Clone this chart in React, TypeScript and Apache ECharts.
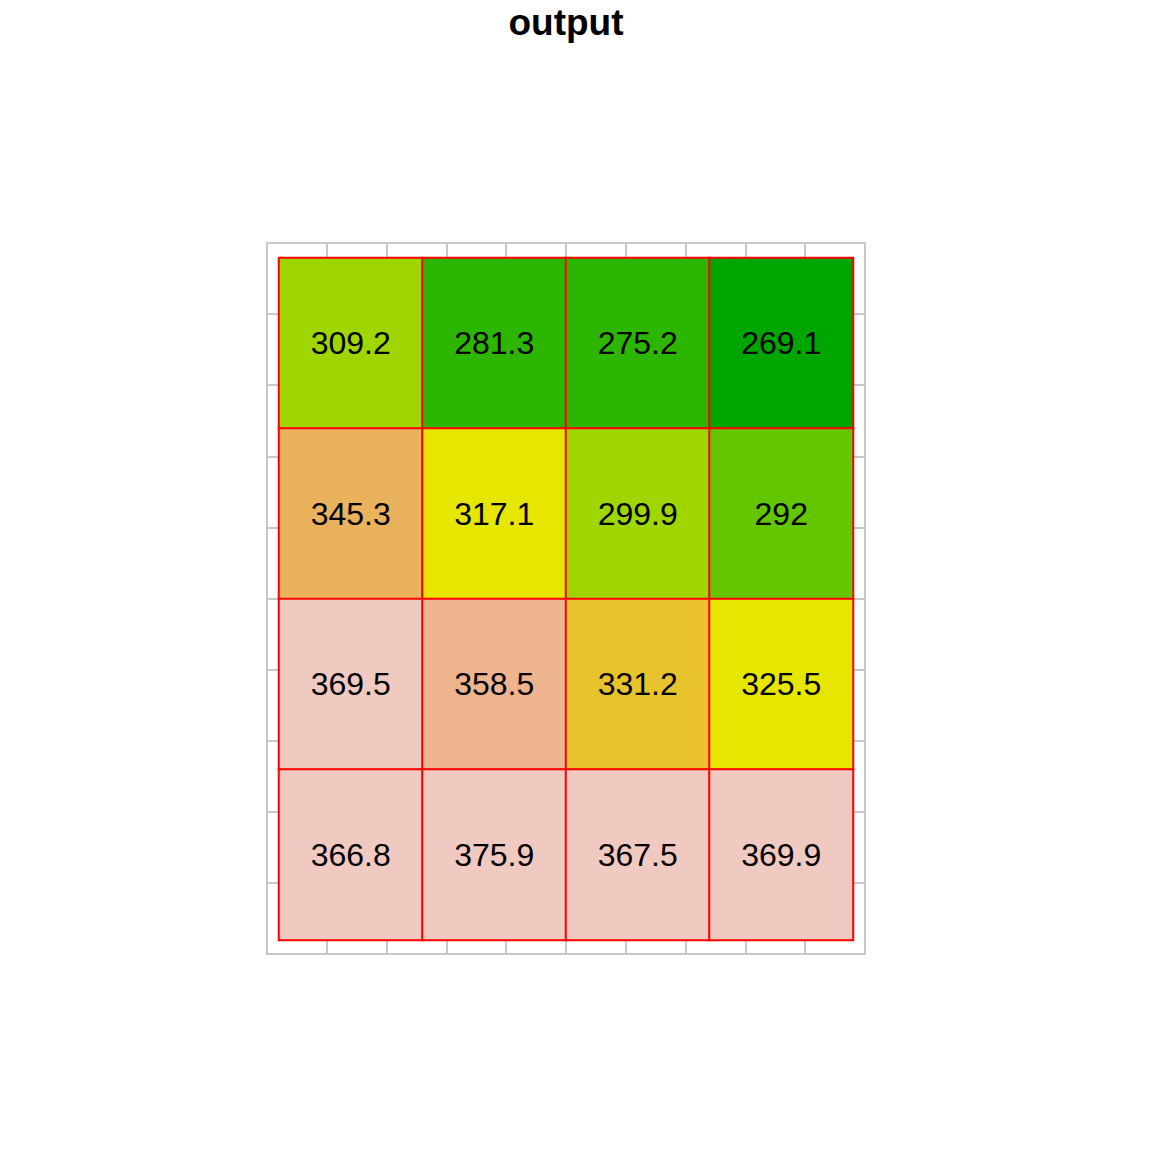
import React, { useEffect, useRef } from "react";
import * as echarts from "echarts";

const columns = ["c1", "c2", "c3", "c4"];
const rows = ["r4", "r3", "r2", "r1"]; // bottom to top
// values by row, top row first
const rowTop = [309.2, 281.3, 275.2, 269.1];
const row2 = [345.3, 317.1, 299.9, 292];
const row3 = [369.5, 358.5, 331.2, 325.5];
const rowBottom = [366.8, 375.9, 367.5, 369.9];

const breaks = [260, 272, 285, 295, 312, 328, 340, 352, 362, 380];
const colors = ["#00A600", "#2DB600", "#63C600", "#A0D600", "#E6E600", "#E8C32E", "#EBB25E", "#EDB48E", "#F0C9C0"];

const frameTicks = 10;

export default function App() {
  const ref = useRef<HTMLDivElement>(null);
  useEffect(() => {
    if (!ref.current) return;
    const chart = echarts.init(ref.current, null, { renderer: "svg" });
    const grid = [rowTop, row2, row3, rowBottom];
    const data: any[] = [];
    grid.forEach((r, ri) => {
      r.forEach((v, ci) => {
        data.push([ci, 3 - ri, v]);
      });
    });
    const pieces = colors.map((c, i) => ({ gte: breaks[i], lt: breaks[i + 1], color: c }));
    const frameColor = "#C8C8C8";
    const frameAxis = (gridIndex: number) => ({
      gridIndex,
      type: "value" as const,
      min: 0,
      max: frameTicks,
      interval: 1,
      axisLine: { show: true, onZero: false, lineStyle: { color: frameColor, width: 2 } },
      axisTick: { show: true, inside: true, length: 14, lineStyle: { color: frameColor, width: 2 } },
      axisLabel: { show: false },
      splitLine: { show: false },
    });
    chart.setOption({
      animation: false,
      grid: [
        { left: 279, top: 258, width: 574, height: 682 },
        { left: 267, top: 243, width: 598, height: 711 },
        { left: 267, top: 243, width: 598, height: 711 },
      ],
      xAxis: [
        { gridIndex: 0, type: "category", data: columns, show: false },
        { ...frameAxis(1), position: "bottom" },
        { ...frameAxis(2), position: "top" },
      ],
      yAxis: [
        { gridIndex: 0, type: "category", data: rows, show: false },
        { ...frameAxis(1), position: "left" },
        { ...frameAxis(2), position: "right" },
      ],
      visualMap: {
        show: false,
        type: "piecewise",
        seriesIndex: 0,
        dimension: 2,
        pieces,
      },
      graphic: [
        {
          type: "text",
          x: 566,
          y: 22,
          style: {
            text: "output",
            font: 'bold 37px "Liberation Sans", Arial, sans-serif',
            fill: "#000",
            align: "center",
            verticalAlign: "middle",
          },
        },
      ],
      series: [
        {
          type: "heatmap",
          xAxisIndex: 0,
          yAxisIndex: 0,
          data,
          z: 5,
          itemStyle: { borderColor: "#FF0000", borderWidth: 2 },
          label: {
            show: true,
            color: "#000",
            fontSize: 32,
            fontFamily: '"Liberation Sans", Arial, sans-serif',
            formatter: (p: any) => String(p.value[2]),
          },
          emphasis: { disabled: true },
        },
        { type: "scatter", xAxisIndex: 1, yAxisIndex: 1, data: [], silent: true },
        { type: "scatter", xAxisIndex: 2, yAxisIndex: 2, data: [], silent: true },
      ],
    });
    return () => chart.dispose();
  }, []);
  return (
    <div
      ref={ref}
      style={{ position: "absolute", left: 0, top: 0, width: 1152, height: 1152, background: "#fff" }}
    />
  );
}
